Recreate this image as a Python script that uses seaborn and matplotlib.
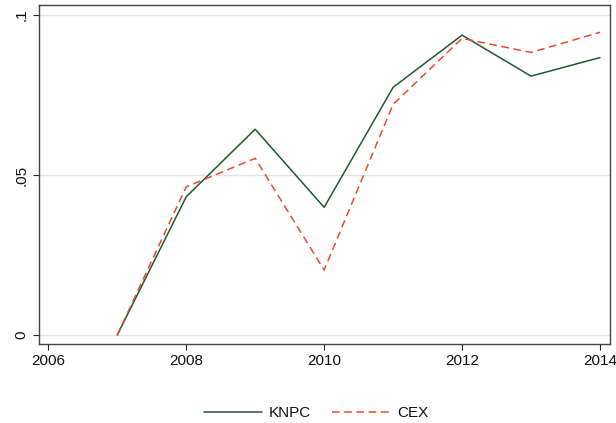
import matplotlib
matplotlib.use("Agg")
import matplotlib.pyplot as plt
import seaborn as sns
import pandas as pd

years = [2007, 2008, 2009, 2010, 2011, 2012, 2013, 2014]
knpc = [0.0, 0.0432, 0.0643, 0.0399, 0.0774, 0.0937, 0.0809, 0.0867]
cex = [0.0, 0.0463, 0.0552, 0.0203, 0.0721, 0.0927, 0.0883, 0.0946]
series_names = ["KNPC", "CEX"]
x_ticks = [2006, 2008, 2010, 2012, 2014]
y_ticks = [0, 0.05, 0.1]
y_labels = ["0", ".05", ".1"]

df = pd.DataFrame({
    "year": years * 2,
    "value": knpc + cex,
    "series": [series_names[0]] * len(years) + [series_names[1]] * len(years),
})

sns.set_style("white")
plt.rcParams["font.family"] = ["Liberation Sans", "DejaVu Sans"]
plt.rcParams["text.color"] = "#111111"

fig = plt.figure(figsize=(6.16, 4.23), dpi=100)
ax = fig.add_axes([0.0625, 0.186, 0.9274, 0.802])

for yt in y_ticks:
    ax.axhline(yt, color="#e3e3e3", lw=1.0, zorder=0)

palette = {"KNPC": "#1f5a32", "CEX": "#ec4a2c"}
sns.lineplot(data=df, x="year", y="value", hue="series", style="series",
             palette=palette, dashes={"KNPC": "", "CEX": (5, 3)},
             linewidth=1.1, ax=ax, legend=False)

ax.set_xlim(2005.858, 2014.142)
ax.set_ylim(-0.0029, 0.1031)
ax.set_xticks(x_ticks)
ax.set_xticklabels([str(t) for t in x_ticks], fontsize=11)
ax.set_yticks(y_ticks)
ax.set_yticklabels(y_labels, fontsize=11, rotation=90, va="center")
ax.set_xlabel("")
ax.set_ylabel("")
ax.tick_params(axis="both", which="both", length=4, width=0.8, color="#222222",
               labelcolor="#111111", direction="out", bottom=True, left=True, pad=3)
for s in ax.spines.values():
    s.set_color("#444444")
    s.set_linewidth(1.0)

from matplotlib.lines import Line2D
handles = [Line2D([], [], color=palette["KNPC"], lw=1.1),
           Line2D([], [], color=palette["CEX"], lw=1.1, dashes=(5, 3))]
fig.legend(handles, series_names, loc="center", bbox_to_anchor=(0.513, 0.024),
           ncol=2, frameon=False, fontsize=11, handlelength=3.8,
           columnspacing=1.4, handletextpad=0.45)

fig.savefig("out.png", dpi=100)
